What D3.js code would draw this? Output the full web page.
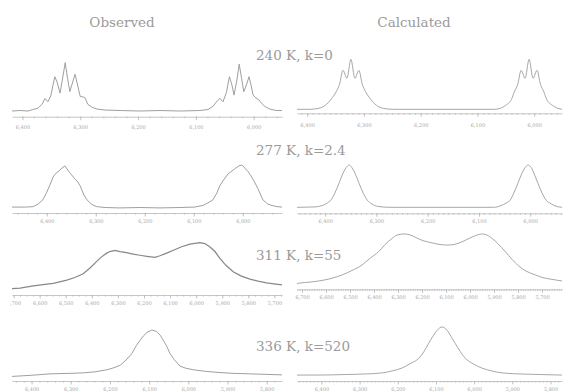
<!DOCTYPE html>
<html>
<head>
<meta charset="utf-8">
<script src="https://cdn.jsdelivr.net/npm/d3@7"></script>
<style>
  html, body { margin: 0; padding: 0; background: #fff; }
  svg { display: block; }
  .title { font-family: "DejaVu Serif", serif; font-size: 13.5px; fill: #9a9a9a; }
  .tick text { font-family: "DejaVu Serif", serif; font-size: 5px; fill: #a8a8a8; }
  .domain, .tick line { stroke: #b8b8b8; stroke-width: 0.8; }
</style>
</head>
<body>
<div id="chart"></div>
<script>
const colTitles = ['Observed', 'Calculated'];
const rowTitles = ['240 K, k=0', '277 K, k=2.4', '311 K, k=55', '336 K, k=520'];

// frequency axes (Hz), left edge -> right edge
const domObs240 = [6418, 5951];
const domCalc240 = [6418, 5951];
const domObs277 = [6471, 5920];
const domCalc277 = [6455, 5938];
const domObs311 = [6706, 5671];
const domCalc311 = [6721, 5617];
const domObs336 = [6450, 5761];
const domCalc336 = [6464, 5770];

const ticks240 = [6400, 6300, 6200, 6100, 6000];
const ticks311 = [6700, 6600, 6500, 6400, 6300, 6200, 6100, 6000, 5900, 5800, 5700];
const ticks336 = [6400, 6300, 6200, 6100, 6000, 5900, 5800];

// [Hz, relative intensity]
const obs240 = [[6418,0],[6404,1],[6390,0],[6382,3],[6373,6],[6366,14],[6361,26],[6356,19],[6351,31],[6347,54],
  [6344,71],[6340,60],[6335,37],[6331,64],[6326,100],[6322,68],[6318,40],[6313,60],[6309,76],[6305,56],
  [6300,30],[6295,29],[6292,28],[6287,14],[6280,8],[6271,4],[6257,2],[6231,1],[6197,0],[6162,1],
  [6127,0],[6093,1],[6079,3],[6070,10],[6063,21],[6058,26],[6053,19],[6047,39],[6042,71],[6038,56],
  [6034,33],[6029,64],[6025,97],[6021,68],[6017,40],[6012,56],[6008,71],[6005,56],[6001,33],[5996,27],
  [5991,23],[5985,14],[5980,9],[5972,4],[5961,1],[5951,1]];
const calc240 = [[6418,0],[6395,0],[6380,2],[6368,8],[6358,20],[6349,35],[6343,50],[6337,78],[6330,62],[6323,100],
  [6316,62],[6309,78],[6303,50],[6297,35],[6288,20],[6278,8],[6266,2],[6250,0],[6070,0],[6060,2],
  [6050,8],[6040,20],[6035,35],[6029,50],[6023,78],[6016,62],[6009,100],[6002,62],[5995,78],[5989,50],
  [5983,35],[5978,20],[5968,8],[5958,2],[5951,0]];
const obs277 = [[6471,1],[6444,1],[6428,2],[6418,8],[6408,18],[6400,36],[6393,55],[6387,72],[6381,81],[6375,86],
  [6369,93],[6363,98],[6357,88],[6351,79],[6344,69],[6338,62],[6332,51],[6324,29],[6318,18],[6308,7],
  [6298,2],[6281,0],[6251,-1],[6210,0],[6169,-1],[6128,0],[6098,1],[6081,5],[6071,11],[6061,18],
  [6053,34],[6047,51],[6038,67],[6030,79],[6022,86],[6014,93],[6008,98],[6002,100],[5996,93],[5989,84],
  [5983,74],[5977,62],[5969,44],[5959,18],[5949,8],[5938,4],[5930,2],[5920,1]];
const calc277 = [[6455,0],[6420,1],[6406,4],[6396,10],[6389,17],[6381,34],[6373,57],[6365,81],[6359,94],[6353,100],
  [6348,94],[6342,81],[6334,57],[6326,34],[6318,17],[6309,8],[6297,2],[6274,0],[6071,0],[6057,4],
  [6047,10],[6039,17],[6032,34],[6024,57],[6016,81],[6010,94],[6004,100],[5998,94],[5993,81],[5985,57],
  [5977,34],[5969,17],[5959,8],[5948,2],[5938,0]];
const obs311 = [[6706,12],[6675,13],[6624,17],[6580,20],[6548,22],[6496,28],[6465,33],[6433,40],[6407,51],[6382,63],
  [6365,71],[6343,79],[6331,82],[6311,84],[6292,82],[6267,80],[6242,77],[6216,75],[6189,73],[6158,71],
  [6139,74],[6113,79],[6085,85],[6056,91],[6024,96],[5986,99],[5967,97],[5948,91],[5928,82],[5909,69],
  [5886,56],[5858,44],[5829,36],[5794,30],[5763,26],[5730,23],[5702,21],[5671,19]];
const calc311 = [[6721,10],[6714,11],[6667,13],[6617,16],[6575,20],[6533,26],[6492,34],[6450,44],[6417,56],[6381,68],
  [6354,81],[6325,92],[6304,98],[6276,100],[6254,99],[6228,94],[6196,88],[6159,84],[6125,81],[6096,80],
  [6067,81],[6033,86],[6004,92],[5978,97],[5950,100],[5929,98],[5908,92],[5883,82],[5853,68],[5825,54],
  [5797,42],[5767,33],[5728,26],[5696,21],[5659,18],[5617,15]];
const obs336 = [[6450,9],[6404,11],[6353,14],[6302,15],[6268,16],[6238,18],[6208,22],[6190,26],[6174,31],[6159,41],
  [6144,54],[6133,69],[6123,80],[6114,89],[6106,95],[6093,100],[6081,97],[6072,90],[6064,80],[6055,68],
  [6047,54],[6036,42],[6021,29],[6006,25],[5987,22],[5957,19],[5927,17],[5886,15],[5842,14],[5802,13],
  [5761,12]];
const calc336 = [[6464,11],[6404,11],[6338,12],[6286,13],[6241,15],[6213,19],[6189,24],[6168,32],[6145,42],[6131,55],
  [6119,70],[6108,83],[6097,94],[6084,100],[6071,94],[6061,83],[6050,70],[6037,55],[6023,42],[6003,32],
  [5980,24],[5956,19],[5927,15],[5880,13],[5828,12],[5770,11]];

const width = 564;
const height = 392;

// panel layout: pixel box of each spectrum
const panels = [
  { data: obs240, dom: domObs240, ticks: ticks240, x0: 12, x1: 282, base: 111, top: 62.7, axisY: 116.7, lab: 10.3, minor: 20 },
  { data: calc240, dom: domCalc240, ticks: ticks240, x0: 297, x1: 562, base: 109.3, top: 59.3, axisY: 113.3, lab: 11.5, minor: 10, calc: true },
  { data: obs277, dom: domObs277, ticks: ticks240, x0: 12, x1: 282, base: 207.5, top: 165, axisY: 213, lab: 8, minor: 20 },
  { data: calc277, dom: domCalc277, ticks: ticks240, x0: 297, x1: 562, base: 207.3, top: 165, axisY: 213.3, lab: 7.6, minor: 10, calc: true },
  { data: obs311, dom: domObs311, ticks: ticks311, x0: 12, x1: 282, base: 295, top: 242, axisY: 295, lab: 8, minor: 25, noisy: true },
  { data: calc311, dom: domCalc311, ticks: ticks311, x0: 297, x1: 562, base: 289.3, top: 234, axisY: 289.3, lab: 8.4, minor: 10, calc: true },
  { data: obs336, dom: domObs336, ticks: ticks336, x0: 12, x1: 282, base: 381, top: 330, axisY: 381, lab: 8.3, minor: 20 },
  { data: calc336, dom: domCalc336, ticks: ticks336, x0: 297, x1: 562, base: 381, top: 327, axisY: 381, lab: 8.3, minor: 10, calc: true }
];

const svg = d3.select('#chart')
  .append('svg')
  .attr('width', width)
  .attr('height', height);

svg.selectAll('text.col')
  .data(colTitles)
  .enter()
  .append('text')
  .attr('class', 'title col')
  .attr('x', (d, i) => [122, 414][i])
  .attr('y', 27)
  .attr('text-anchor', 'middle')
  .text(d => d);

svg.selectAll('text.row')
  .data(rowTitles)
  .enter()
  .append('text')
  .attr('class', 'title row')
  .attr('x', 256)
  .attr('y', (d, i) => [60, 155, 260, 351][i])
  .text(d => d);

const fmt = d3.format(',');

panels.forEach((p, i) => {
  const x = d3.scaleLinear().domain(p.dom).range([p.x0, p.x1]);
  const y = d3.scaleLinear().domain([0, 100]).range([p.base, p.top]);
  const g = svg.append('g');

  svg.append('clipPath')
    .attr('id', 'clip' + i)
    .append('rect')
    .attr('x', p.x0 - 2)
    .attr('y', p.axisY - 4)
    .attr('width', p.x1 - p.x0 + 3)
    .attr('height', 20);

  const ax = g.append('g').attr('clip-path', `url(#clip${i})`);

  const minorTicks = d3.range(Math.floor(p.dom[0] / p.minor) * p.minor, p.dom[1], -p.minor);
  ax.append('g')
    .attr('transform', `translate(0,${p.axisY})`)
    .call(d3.axisBottom(x).tickValues(minorTicks).tickSize(1.6).tickSizeOuter(0).tickFormat(''));

  const major = ax.append('g')
    .attr('transform', `translate(0,${p.axisY})`)
    .call(d3.axisBottom(x)
      .tickValues(p.ticks)
      .tickSize(3.5)
      .tickSizeOuter(0)
      .tickPadding(p.lab - 3.5 - 1.8)
      .tickFormat(fmt));
  major.select('.domain').remove();

  const line = d3.line()
    .x(d => x(d[0]))
    .y(d => y(d[1]))
    .curve(p.calc ? d3.curveMonotoneX : d3.curveLinear);

  g.append('path')
    .datum(p.data)
    .attr('d', line)
    .style('fill', 'none')
    .style('stroke', p.noisy ? '#888' : (p.calc ? '#a2a2a2' : '#9a9a9a'))
    .style('stroke-width', p.noisy ? 1.25 : 0.95);
});
</script>
</body>
</html>
